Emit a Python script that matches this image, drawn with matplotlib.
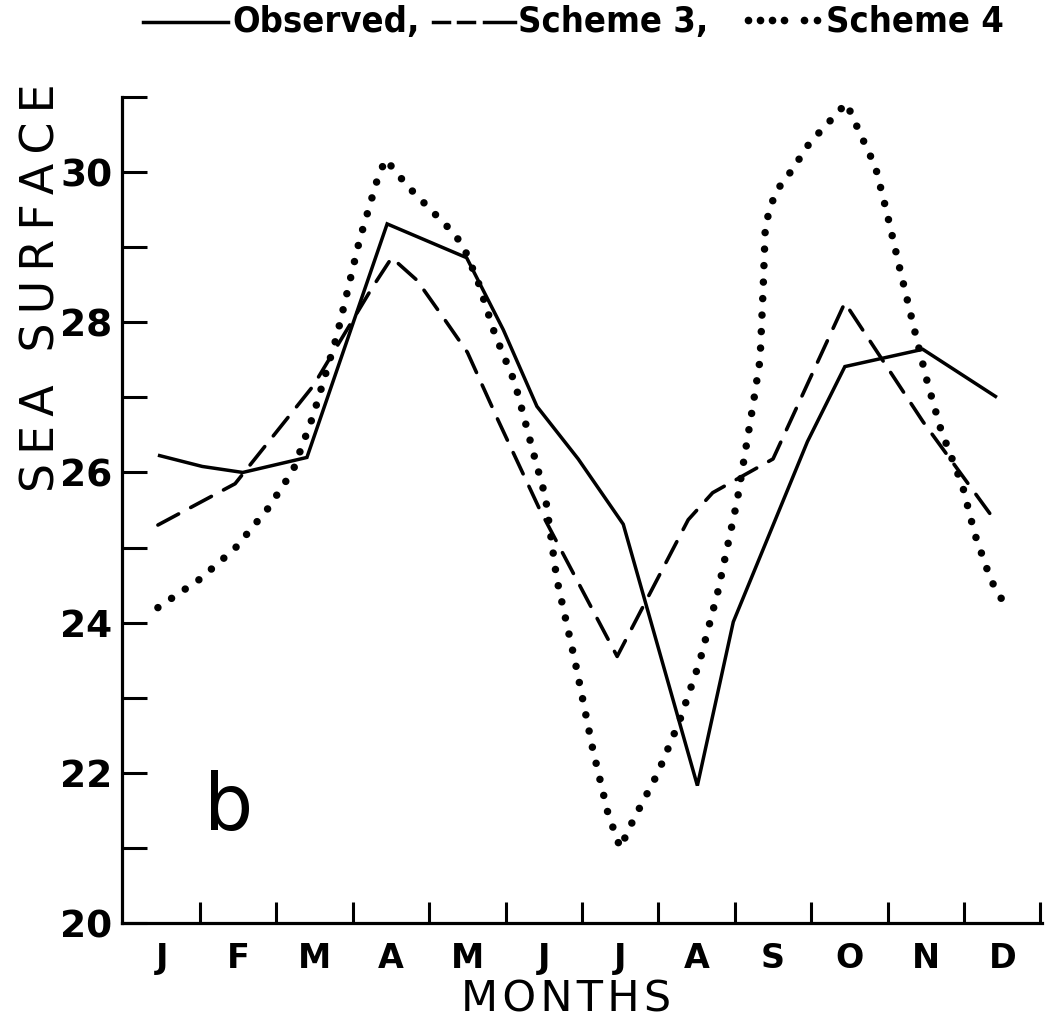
import matplotlib
matplotlib.use('Agg')
import matplotlib.pyplot as plt
from matplotlib.lines import Line2D

# ---------------- data ----------------
month_labels = ['J', 'F', 'M', 'A', 'M', 'J', 'J', 'A', 'S', 'O', 'N', 'D']
month_centers = [0.5, 1.5, 2.5, 3.5, 4.5, 5.5, 6.5, 7.5, 8.5, 9.5, 10.5, 11.5]
month_ticks = [1, 2, 3, 4, 5, 6, 7, 8, 9, 10, 11, 12]
y_major = [20, 22, 24, 26, 28, 30]
y_minor = [21, 23, 25, 27, 29, 31]

obs_x = [0.45, 1.03, 1.56, 2.40, 3.45, 4.49, 4.97, 5.41, 5.95, 6.54, 7.51, 7.98,
         8.95, 9.44, 10.46, 11.43]
obs_y = [26.23, 26.08, 26.00, 26.20, 29.31, 28.86, 27.90, 26.88, 26.18, 25.31,
         21.83, 24.01, 26.41, 27.41, 27.64, 27.00]

s3_x = [0.45, 1.46, 2.48, 3.26, 3.51, 3.84, 4.18, 4.50, 4.90, 5.45, 6.46, 7.39,
        7.71, 8.50, 9.44, 10.46, 11.44]
s3_y = [25.30, 25.85, 27.15, 28.47, 28.86, 28.56, 28.07, 27.60, 26.70, 25.50,
        23.55, 25.37, 25.73, 26.18, 28.26, 26.68, 25.31]

s4_x = [0.45, 1.00, 1.46, 1.89, 2.22, 2.48, 2.79, 3.09, 3.33, 3.43, 3.72, 4.27,
        4.44, 4.64, 4.86, 5.12, 5.38, 5.52, 5.67, 5.91, 6.14, 6.34, 6.50, 6.67,
        6.99, 7.28, 7.54, 7.78, 8.03, 8.24, 8.33, 8.37, 8.40, 8.53, 8.75, 8.98,
        9.29, 9.46, 9.61, 9.84, 9.99, 10.16, 10.36, 10.52, 10.70, 10.98, 11.14,
        11.35, 11.51]
s4_y = [24.20, 24.58, 24.99, 25.52, 26.03, 26.75, 27.81, 29.10, 29.93, 30.17,
        29.81, 29.24, 29.03, 28.54, 27.84, 27.20, 26.20, 25.68, 24.58, 23.48,
        22.32, 21.46, 21.00, 21.37, 21.99, 22.70, 23.48, 24.42, 25.62, 26.91,
        27.50, 28.43, 29.30, 29.73, 30.03, 30.39, 30.73, 30.92, 30.58, 30.07,
        29.46, 28.71, 27.86, 27.20, 26.56, 25.82, 25.18, 24.57, 24.28]

# ---------------- figure ----------------
W, H = 1046, 1021
fig = plt.figure(figsize=(W / 100, H / 100), dpi=100)
ax = fig.add_axes([122 / W, (H - 923) / H, (1042 - 122) / W, (923 - 97) / H])

ax.plot(obs_x, obs_y, color='black', lw=2.5, solid_joinstyle='miter',
        solid_capstyle='butt')
ax.plot(s3_x, s3_y, color='black', lw=2.6, linestyle=(0, (6.5, 3.8)),
        dash_capstyle='round')
ax.plot(s4_x, s4_y, color='black', lw=5.4, linestyle=(0, (0.001, 2.2)),
        dash_capstyle='round')

ax.set_xlim(-0.02, 12.02)
ax.set_ylim(20, 31)

for s in ['top', 'right']:
    ax.spines[s].set_visible(False)
for s in ['left', 'bottom']:
    ax.spines[s].set_linewidth(2.3)

ax.set_yticks(y_major)
ax.set_yticks(y_minor, minor=True)
ax.set_yticklabels([str(v) for v in y_major])
ax.tick_params(axis='y', which='both', direction='in', length=18, width=2.2,
               pad=7, labelsize=27)

ax.set_xticks(month_ticks)
ax.set_xticklabels([''] * len(month_ticks))
ax.set_xticks(month_centers, minor=True)
ax.set_xticklabels(month_labels, minor=True, fontweight='bold', fontsize=24)
ax.tick_params(axis='x', which='major', direction='in', length=15, width=2.2)
ax.tick_params(axis='x', which='minor', length=0, pad=14)

for lab in ax.get_yticklabels():
    lab.set_fontweight('bold')

# axis titles (letter-spaced)
hair = '\u200a'
thin = '\u2009'
fig.text(566 / W, 1 - 999 / H, hair.join('MONTHS'), ha='center', va='center',
         fontsize=31)
fig.text(42 / W, 1 - 492 / H, thin.join('SEA SURFACE'), rotation=90, ha='left',
         va='center', rotation_mode='anchor', fontsize=33)

# panel letter
fig.text(229 / W, 1 - 808 / H, 'b', fontsize=56, ha='center', va='center')

# ---------------- header legend ----------------
yl = 1 - 22 / H
fig.add_artist(Line2D([143 / W, 228 / W], [yl, yl], color='black', lw=2.5))
for x0, x1 in [(433, 449), (458, 474), (484, 515)]:
    fig.add_artist(Line2D([x0 / W, x1 / W], [yl, yl], color='black', lw=2.5))
for xd in [748, 760, 772, 784, 804, 817]:
    fig.add_artist(Line2D([xd / W], [yl + 2 / H], marker='o', markersize=4.5,
                          color='black', lw=0))
hdr = dict(fontsize=26, fontweight='bold', fontstretch='condensed',
           va='center', ha='left')
fig.text(232 / W, yl, 'Observed,', **hdr)
fig.text(518 / W, yl, 'Scheme 3,', **hdr)
fig.text(826 / W, yl, 'Scheme 4', **hdr)

fig.savefig('out.png', dpi=100)
